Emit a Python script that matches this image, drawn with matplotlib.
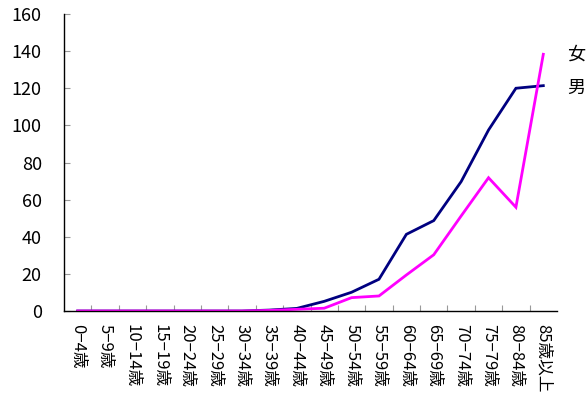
import matplotlib
matplotlib.use("Agg")
import matplotlib.pyplot as plt

plt.rcParams['font.family'] = ['Noto Sans CJK JP', 'DejaVu Sans']

categories = ["0−4歳", "5−9歳", "10−14歳", "15−19歳", "20−24歳", "25−29歳",
              "30−34歳", "35−39歳", "40−44歳", "45−49歳", "50−54歳", "55−59歳",
              "60−64歳", "65−69歳", "70−74歳", "75−79歳", "80−84歳", "85歳以上"]
male = [0, 0, 0, 0, 0, 0, 0, 0.5, 1.4, 5.2, 10.1, 17.1, 41.3, 48.7, 69.7, 97.5, 120.0, 121.4]
female = [0, 0, 0, 0, 0, 0, 0, 0.3, 0.9, 1.5, 7.2, 8.1, 19.4, 30.3, 51.2, 71.8, 55.9, 138.3]
yticks = [0, 20, 40, 60, 80, 100, 120, 140, 160]

fig = plt.figure(figsize=(5.87, 4.05), dpi=100)
ax = fig.add_axes([64/587, 1-311/405, (557-64)/587, (311-14)/405])

x = list(range(len(categories)))
ax.plot(x, male, color='#000080', lw=2, solid_joinstyle='miter')
ax.plot(x, female, color='#FF00FF', lw=2, solid_joinstyle='miter')

ax.set_xlim(-0.5, len(categories) - 0.5)
ax.set_ylim(0, 160)
ax.set_yticks(yticks)
ax.set_yticklabels([str(v) for v in yticks], fontsize=13)
ax.set_xticks([i + 0.5 for i in range(len(categories) - 1)])
ax.set_xticklabels([])
ax.set_xticks(x, minor=True)
ax.set_xticklabels(categories, minor=True, rotation=270, fontsize=12, va='top', ha='center')
ax.tick_params(axis='x', which='minor', length=0, pad=9)
ax.tick_params(axis='x', which='major', direction='in', length=4, color='#999999')
ax.tick_params(axis='y', direction='in', length=4, color='#999999', pad=16)

for s in ['top', 'right']:
    ax.spines[s].set_visible(False)
for s in ['left', 'bottom']:
    ax.spines[s].set_color('black')
    ax.spines[s].set_linewidth(1)

fig.text(567/587, 1-55/405, "女", fontsize=13, va='center', ha='left')
fig.text(567/587, 1-88/405, "男", fontsize=13, va='center', ha='left')

fig.savefig("out.png", dpi=100)
